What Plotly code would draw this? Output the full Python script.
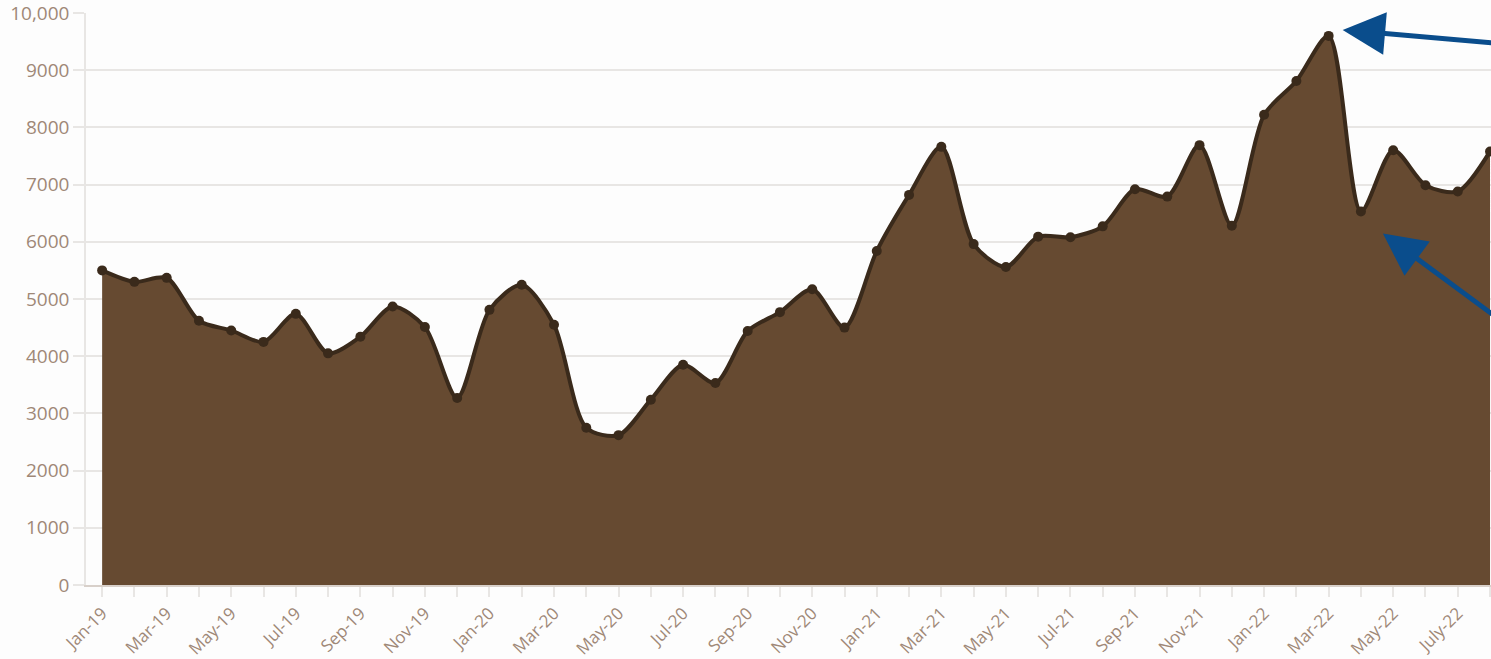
import plotly.graph_objects as go

# Monthly series, Jan-2019 to Aug-2022
months = [
    "Jan-19", "Feb-19", "Mar-19", "Apr-19", "May-19", "Jun-19", "Jul-19", "Aug-19",
    "Sep-19", "Oct-19", "Nov-19", "Dec-19",
    "Jan-20", "Feb-20", "Mar-20", "Apr-20", "May-20", "Jun-20", "Jul-20", "Aug-20",
    "Sep-20", "Oct-20", "Nov-20", "Dec-20",
    "Jan-21", "Feb-21", "Mar-21", "Apr-21", "May-21", "Jun-21", "Jul-21", "Aug-21",
    "Sep-21", "Oct-21", "Nov-21", "Dec-21",
    "Jan-22", "Feb-22", "Mar-22", "Apr-22", "May-22", "Jun-22", "July-22", "Aug-22",
]
values = [
    5500, 5300, 5370, 4620, 4450, 4250, 4740, 4050, 4340, 4870, 4510, 3270,
    4810, 5250, 4550, 2750, 2620, 3240, 3850, 3530, 4440, 4770, 5170, 4500,
    5840, 6820, 7660, 5960, 5560, 6090, 6080, 6270, 6920, 6790, 7690, 6280,
    8220, 8810, 9600, 6530, 7600, 6990, 6880, 7580,
]
y_ticks = [0, 1000, 2000, 3000, 4000, 5000, 6000, 7000, 8000, 9000, 10000]

# Months highlighted with arrows: the peak and the drop right after it
peak_month = "Mar-22"
drop_month = "Apr-22"

x = list(range(len(months)))
x_ticktext = [m if i % 2 == 0 else "" for i, m in enumerate(months)]
y_ticktext = [f"{v:,}" if v >= 10000 else str(v) for v in y_ticks]

FILL = "#664a31"
LINE = "#3a2a1b"
TICK_COLOR = "#9f8877"
GRID = "#e8e6e4"
ARROW = "#0a4d8c"

fig = go.Figure()
fig.add_trace(go.Scatter(
    x=x, y=values,
    mode="lines+markers",
    fill="tozeroy",
    fillcolor=FILL,
    line=dict(color=LINE, width=4, shape="spline", smoothing=0.8),
    marker=dict(color=LINE, size=10),
    hoverinfo="x+y",
))

peak_i = months.index(peak_month)
drop_i = months.index(drop_month)
arrow_common = dict(
    text="", showarrow=True, arrowhead=2, arrowsize=1.7, arrowwidth=5,
    arrowcolor=ARROW, standoff=0, xref="x", yref="y",
)
fig.add_annotation(x=peak_i, y=values[peak_i], xshift=14, yshift=6,
                   ax=180, ay=14, **arrow_common)
fig.add_annotation(x=drop_i, y=values[drop_i], xshift=22, yshift=-22,
                   ax=140, ay=96, **arrow_common)

fig.update_layout(
    width=1491, height=659,
    margin=dict(l=86, r=0, t=13, b=74, autoexpand=False),
    paper_bgcolor="#fdfdfd",
    plot_bgcolor="#fdfdfd",
    showlegend=False,
    font=dict(family="Open Sans, sans-serif", size=18, color=TICK_COLOR),
)
fig.update_xaxes(
    range=[-0.5, 43.03],
    tickmode="array", tickvals=x, ticktext=x_ticktext,
    tickangle=-45, automargin=False, ticklabeloverflow="allow",
    ticks="outside", ticklen=10, tickcolor=GRID, tickwidth=1.5,
    showgrid=False, zeroline=False,
    showline=True, linecolor="#d8d0ca", linewidth=1.5,
    tickfont=dict(family="Open Sans, sans-serif", size=17, color=TICK_COLOR),
)
fig.update_yaxes(
    range=[0, 10000],
    tickmode="array", tickvals=y_ticks, ticktext=y_ticktext,
    automargin=False, ticklabeloverflow="allow",
    ticks="outside", ticklen=11, tickcolor=GRID, tickwidth=1.5,
    showgrid=True, gridcolor=GRID, gridwidth=1.5,
    zeroline=False,
    showline=True, linecolor=GRID, linewidth=1.5,
    tickfont=dict(family="Open Sans, sans-serif", size=19, color=TICK_COLOR),
)

fig.write_html("out.html")
